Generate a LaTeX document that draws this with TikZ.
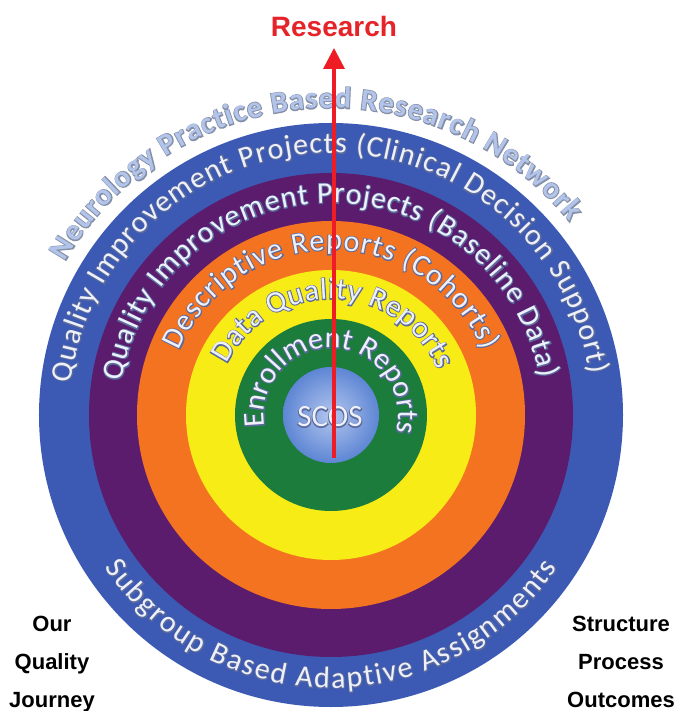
\documentclass[tikz,border=0pt]{standalone}
\usepackage{fontspec}
\usetikzlibrary{decorations.text, arrows.meta}
\setmainfont{Carlito}
\newfontfamily\ringfont{Carlito}
\newfontfamily\ringout{Carlito}[FakeBold=6]
\newfontfamily\labfont{Liberation Sans}
\definecolor{ringblue}{HTML}{3C5AB4}
\definecolor{ringpurple}{HTML}{5B1C6E}
\definecolor{ringorange}{HTML}{F47321}
\definecolor{ringyellow}{HTML}{F7EC16}
\definecolor{ringgreen}{HTML}{1B7C3C}
\definecolor{scosin}{HTML}{B3C6EE}
\definecolor{scosout}{HTML}{5E86D4}
\definecolor{txtfill}{HTML}{EEF0FA}
\definecolor{txtline}{HTML}{5A6A9C}
\definecolor{nfillc}{HTML}{B2C4EA}
\definecolor{nlinec}{HTML}{858FA6}
\definecolor{researchred}{HTML}{E52329}
\definecolor{arrowred}{HTML}{EE1C25}
\newcommand\rfill{\ringfont\fontsize{30}{36}\selectfont\color{txtfill}}
\newcommand\rout{\ringout\fontsize{30}{36}\selectfont\color{txtline}}
\newcommand\nfill{\ringfont\bfseries\fontsize{30}{36}\selectfont\color{nfillc}}
\newcommand\nout{\ringout\bfseries\fontsize{30}{36}\selectfont\color{nlinec}}
\newcommand\arctext[6]{%
  \path[decorate, decoration={text along path, text align=fit to path, text={|#1|#6}}]
    (#4:#3) arc[start angle=#4, end angle=#5, radius=#3];
  \path[decorate, decoration={text along path, text align=fit to path, text={|#2|#6}}]
    (#4:#3) arc[start angle=#4, end angle=#5, radius=#3];
}
\begin{document}
\begin{tikzpicture}[x=1pt, y=1pt,
  ring/.style={circle, inner sep=0pt, draw=none},
  lab/.style={font=\labfont\bfseries\fontsize{22}{26}\selectfont, text=black, anchor=base, inner sep=0pt},
  redarrow/.style={draw=arrowred, line width=3.5pt, -{Triangle[length=21pt, width=21pt]}}]
\useasboundingbox (-331,-296) rectangle (347,415);
\fill[white] (-331,-296) rectangle (347,415);
% rings
\node[ring, fill=ringblue, minimum size=584pt] (blue) at (0,0) {};
\node[ring, fill=ringpurple, minimum size=484pt] (purple) at (0,0) {};
\node[ring, fill=ringorange, minimum size=388pt] (orange) at (0,0) {};
\node[ring, fill=ringyellow, minimum size=290pt] (yellow) at (0,0) {};
\node[ring, fill=ringgreen, minimum size=192pt] (green) at (0,0) {};
\node[ring, inner color=scosin, outer color=scosout, minimum size=96pt] (scos) at (0,0) {};
% curved texts
\arctext{\nout}{\nfill}{307}{150}{39}{Neurology Practice Based Research Network}
\arctext{\rout}{\rfill}{262}{173}{9}{Quality Improvement Projects (Clinical Decision Support)}
\arctext{\rout}{\rfill}{212}{171}{10}{Quality Improvement Projects (Baseline Data)}
\arctext{\rout}{\rfill}{165}{157}{23}{Descriptive Reports (Cohorts)}
\arctext{\rout}{\rfill}{116}{154}{23}{Data Quality Reports}
\arctext{\rout}{\rfill}{67}{190}{-15}{Enrollment Reports}
\arctext{\rout}{\rfill}{273}{214}{326}{Subgroup Based Adaptive Assignments}
% SCOS label
\node[font=\ringout\fontsize{31}{36}\selectfont, text=txtline, inner sep=0pt] (scosout) at (-1,-2) {SCOS};
\node[font=\ringfont\fontsize{31}{36}\selectfont, text=txtfill, inner sep=0pt] (scoslabel) at (-1,-2) {SCOS};
% arrow
\coordinate (abot) at (3,-43);
\coordinate (atip) at (3,367);
\draw[redarrow] (abot) -- (atip);
\node[font=\labfont\bfseries\fontsize{28}{32}\selectfont, text=researchred, anchor=base, inner sep=0pt] (research) at (3,378) {Research};
% side labels
\node[lab] (our) at (-279,-216) {Our};
\node[lab] (quality) at (-279,-254) {Quality};
\node[lab] (journey) at (-279,-292) {Journey};
\node[lab] (structure) at (290,-216) {Structure};
\node[lab] (process) at (290,-254) {Process};
\node[lab] (outcomes) at (290,-292) {Outcomes};
\end{tikzpicture}
\end{document}
